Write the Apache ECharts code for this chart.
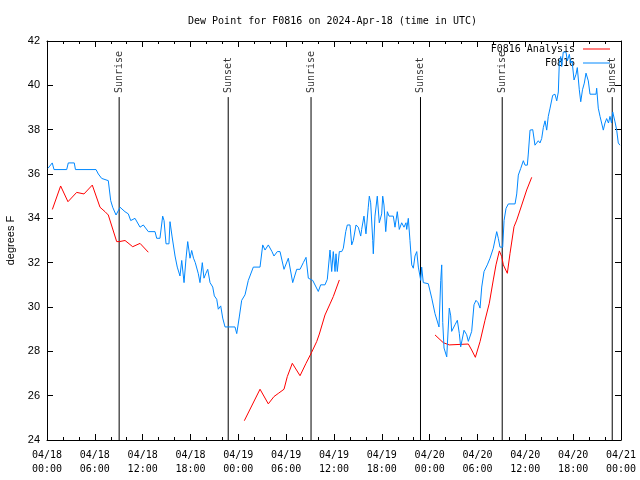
<!DOCTYPE html>
<html><head><meta charset="utf-8">
<script src="https://cdn.jsdelivr.net/npm/echarts@6/dist/echarts.min.js"></script>
<style>html,body{margin:0;padding:0;background:#fff}#c{width:640px;height:480px}</style>
</head><body><div id="c"></div>
<script>
const chartTitle = 'Dew Point for F0816 on 2024-Apr-18 (time in UTC)';
const yName = 'degrees F';
const xTickLabels = ['04/18\n00:00','04/18\n06:00','04/18\n12:00','04/18\n18:00','04/19\n00:00','04/19\n06:00','04/19\n12:00','04/19\n18:00','04/20\n00:00','04/20\n06:00','04/20\n12:00','04/20\n18:00','04/21\n00:00'];
// hours since 2024-04-18 00:00 UTC
const analysisHours = [0.67,1.71,2.63,3.72,4.64,5.68,6.65,7.28,7.69,8.74,9.07,9.79,10.75,11.67,12.71,
  18,
  24.75,26.72,27.76,28.47,29.01,29.73,30.14,30.77,31.74,32.49,33.2,33.83,34.16,34.87,35.5,35.91,36.67,
  42,
  48.67,49.71,50.46,52.85,53.27,53.73,54.32,54.94,55.48,55.98,56.32,56.74,57.04,57.24,57.74,58.08,58.58,58.92,59.55,60.17,60.8];
const analysisValues = [34.4,35.46,34.75,35.17,35.1,35.5,34.5,34.3,34.15,32.95,32.95,33.0,32.72,32.87,32.47,
  null,
  24.87,26.29,25.63,25.96,26.1,26.29,26.86,27.46,26.9,27.46,27.96,28.44,28.78,29.64,30.14,30.47,31.22,
  null,
  28.74,28.39,28.29,28.33,28.06,27.73,28.44,29.4,30.17,31.22,31.9,32.53,32.27,31.9,31.52,32.42,33.62,33.92,34.6,35.28,35.85];
const obsHours = [0.13,0.66,0.88,2.47,2.67,3.42,3.57,6.15,6.44,6.86,7.69,7.99,8.24,8.66,9.16,9.78,10.2,10.5,11.04,11.67,12.08,12.71,13.55,13.76,14.17,14.51,14.68,14.93,15.3,15.43,15.68,16.06,16.34,16.68,16.9,17.19,17.44,17.65,17.94,18.15,18.38,18.6,18.98,19.19,19.48,19.69,19.91,20.16,20.45,20.79,20.99,21.29,21.49,21.79,22.04,22.33,23.58,23.8,24.12,24.42,24.84,25.25,25.88,26.72,27.06,27.35,27.76,28.22,28.47,28.89,29.23,29.73,30.27,30.82,31.32,31.74,32.15,32.49,32.78,33.33,34.03,34.33,34.87,35.16,35.5,35.71,35.91,36.13,36.25,36.41,36.67,36.97,37.17,37.47,37.67,38.01,38.22,38.42,38.76,39.05,39.35,39.47,39.76,40.01,40.3,40.43,40.6,40.86,40.93,41.14,41.43,41.68,41.98,42.11,42.27,42.49,42.69,42.9,43.44,43.65,43.94,44.19,44.49,44.78,45.03,45.12,45.32,45.53,45.75,45.95,46.16,46.38,46.58,46.88,47.0,47.2,47.83,48.26,48.67,48.92,49.17,49.39,49.51,49.64,49.8,50.14,50.34,50.46,50.64,50.76,51.18,51.47,51.72,51.89,52.31,52.64,52.85,53.27,53.56,53.81,54.06,54.32,54.53,54.82,55.23,55.57,55.98,56.41,56.61,56.82,57.16,57.33,57.58,57.87,58.71,58.92,59.12,59.42,59.75,59.96,60.25,60.37,60.59,60.93,61.21,61.63,61.84,62.05,62.26,62.47,62.68,62.88,63.1,63.43,63.72,63.94,64.14,64.26,64.44,64.56,64.76,65.1,65.27,65.52,65.69,65.86,66.11,66.36,66.52,66.77,66.95,67.17,67.4,67.61,67.9,68.11,68.87,68.95,69.15,69.37,69.55,69.78,69.99,70.2,70.43,70.62,70.81,70.96,71.25,71.46,71.66,71.87];
const obsValues = [36.26,36.5,36.2,36.2,36.5,36.5,36.2,36.2,36.0,35.8,35.7,34.8,34.5,34.15,34.5,34.3,34.2,33.9,34.0,33.6,33.7,33.4,33.4,33.1,33.1,34.1,33.9,32.85,32.85,33.85,33.2,32.3,31.8,31.4,32.1,31.1,32.2,32.95,32.2,32.55,32.2,32.0,31.5,31.1,32.0,31.3,31.5,31.7,31.1,30.9,30.5,30.35,29.9,30.05,29.5,29.1,29.1,28.8,29.55,30.3,30.55,31.2,31.8,31.8,32.8,32.57,32.8,32.5,32.3,32.5,32.5,31.7,32.2,31.1,31.7,31.7,32.0,32.24,31.3,31.2,30.7,31.0,31.0,31.25,32.57,31.6,32.5,31.6,32.4,31.6,32.5,32.5,32.65,33.4,33.7,33.7,32.8,33.0,33.7,33.6,33.2,33.5,34.1,33.3,34.5,35.0,34.7,33.0,32.4,34.1,35.0,33.8,34.2,35.0,34.6,33.4,34.3,34.1,34.1,33.6,34.3,33.5,33.8,33.6,33.8,33.5,34.0,33.0,31.9,31.75,32.3,32.5,31.8,31.2,31.8,31.1,31.05,30.4,29.7,29.7,29.1,31.2,31.9,29.3,28.15,27.75,27.75,29.95,29.6,28.9,29.2,29.4,28.8,28.2,28.95,28.75,28.45,28.9,30.1,30.3,30.2,29.95,30.9,31.6,31.9,32.2,32.65,33.4,33.1,32.7,32.7,33.9,34.45,34.65,34.65,35.1,35.95,36.25,36.6,36.4,36.4,36.9,37.98,38.0,37.3,37.5,37.4,37.6,38.1,38.4,37.98,38.6,38.97,39.55,39.6,39.3,39.7,40.99,41.3,40.85,41.5,41.5,41.1,41.4,41.0,41.1,40.24,40.5,40.8,39.8,39.26,39.8,40.1,40.55,40.2,39.6,39.6,39.87,38.97,38.6,38.6,37.98,38.3,38.5,38.3,38.6,38.3,38.8,38.35,37.98,37.4,37.3];
const sunHours = [9.05, 22.73, 33.12, 46.85, 57.1, 70.9];
const sunNames = ['Sunrise','Sunset','Sunrise','Sunset','Sunrise','Sunset'];

const MONO = 'DejaVu Sans Mono';
const SANS = 'Liberation Sans';
const sunTop = 39.47;

const analysisData = analysisHours.map((h,i)=>[h, analysisValues[i] === null ? '-' : analysisValues[i]]);
const obsData = obsHours.map((h,i)=>[h, obsValues[i]]);
const sunLineData = [];
sunHours.forEach(h=>{ sunLineData.push([h,24],[h,sunTop],[h,'-']); });
const sunLabelData = sunHours.map((h,i)=>({value:[h,sunTop], name:sunNames[i]}));

const axisLine = {show:true, onZero:false, lineStyle:{color:'#000', width:1}};
const legendText = {fontFamily:MONO, fontSize:10, color:'#000', padding:[0,3,0,0]};
const chart = echarts.init(document.getElementById('c'), null, {renderer:'canvas'});
chart.setOption({
  animation:false,
  backgroundColor:'#fff',
  title:{text:chartTitle, left:183, top:11, textStyle:{fontFamily:MONO, fontSize:10, fontWeight:'normal', color:'#000'}},
  grid:{left:47, right:19, top:41, bottom:40, containLabel:false, outerBoundsMode:'none'},
  legend:[
    {data:['F0816 Analysis'], orient:'vertical', align:'right', right:30, top:44, padding:0, icon:'rect', itemWidth:27, itemHeight:1,
     textStyle:legendText},
    {data:['F0816'], orient:'vertical', align:'right', right:30, top:58, padding:0, icon:'rect', itemWidth:27, itemHeight:1,
     textStyle:legendText}
  ],
  xAxis:[
    {type:'value', min:0, max:72, interval:6, position:'bottom',
     axisLine:axisLine, splitLine:{show:false},
     axisTick:{show:true, inside:true, length:6, lineStyle:{color:'#000'}},
     minorTick:{show:true, splitNumber:3, length:3, lineStyle:{color:'#000'}},
     axisLabel:{fontFamily:MONO, fontSize:10, color:'#000', margin:8, lineHeight:14,
       formatter:(v)=>xTickLabels[Math.round(v/6)]}},
    {type:'value', min:0, max:72, interval:6, position:'top',
     axisLine:axisLine, splitLine:{show:false},
     axisTick:{show:true, inside:true, length:6, lineStyle:{color:'#000'}},
     minorTick:{show:true, splitNumber:3, length:3, lineStyle:{color:'#000'}},
     axisLabel:{show:false}}
  ],
  yAxis:[
    {type:'value', min:24, max:42, interval:2, position:'left',
     name:yName, nameLocation:'middle', nameGap:31, nameRotate:90,
     nameTextStyle:{fontFamily:SANS, fontSize:11, color:'#000'},
     axisLine:axisLine, splitLine:{show:false},
     axisTick:{show:true, inside:true, length:6, lineStyle:{color:'#000'}},
     axisLabel:{fontFamily:SANS, fontSize:11, color:'#000', margin:7}},
    {type:'value', min:24, max:42, interval:2, position:'right',
     axisLine:axisLine, splitLine:{show:false},
     axisTick:{show:true, inside:true, length:6, lineStyle:{color:'#000'}},
     axisLabel:{show:false}}
  ],
  series:[
    {name:'sun', type:'line', data:sunLineData, symbol:'none', connectNulls:false,
     lineStyle:{color:'#000', width:1}, silent:true, z:1},
    {name:'sunLabels', type:'scatter', data:sunLabelData, symbolSize:0, itemStyle:{color:'rgba(0,0,0,0)'}, silent:true,
     label:{show:true, formatter:(p)=>p.name, position:'top', distance:4, rotate:90, align:'left', verticalAlign:'middle',
       fontFamily:MONO, fontSize:10, color:'#000'}},
    {name:'F0816 Analysis', type:'line', data:analysisData, symbol:'none', connectNulls:false,
     lineStyle:{color:'#ff0000', width:1}, itemStyle:{color:'#ff0000'}, z:3},
    {name:'F0816', type:'line', data:obsData, symbol:'none',
     lineStyle:{color:'#0088ff', width:1}, itemStyle:{color:'#0088ff'}, z:4}
  ]
});
</script></body></html>
